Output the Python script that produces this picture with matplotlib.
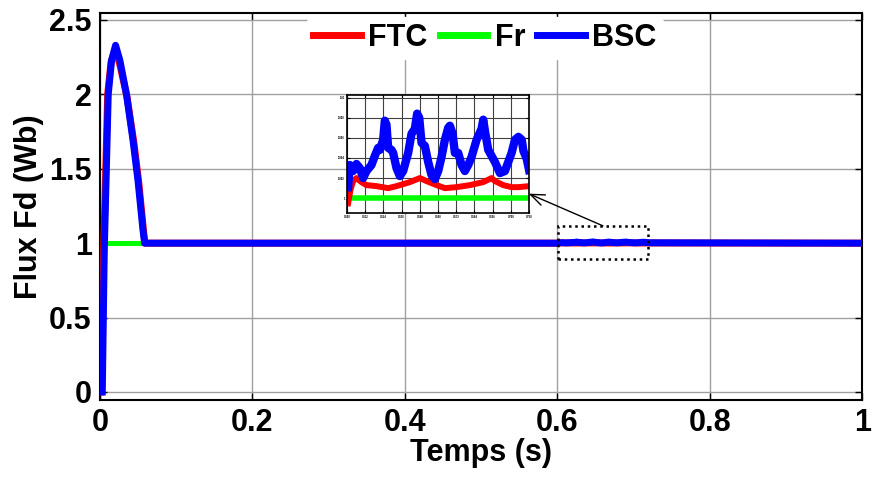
# coding:utf-8
# 磁束 Fd の応答 (FTC / Fr / BSC) と拡大図
import numpy as np
from matplotlib import pyplot as plt
from matplotlib.patches import Rectangle

plt.rcParams['font.family'] = ['Liberation Sans', 'DejaVu Sans']
plt.rcParams['font.weight'] = 'bold'

# 起動時の過渡応答 (秒, Wb)
t_start_ftc = [0.001, 0.0048, 0.0100, 0.0145, 0.0200, 0.026, 0.0355, 0.0443, 0.0508, 0.0573, 0.059]
fd_start_ftc = [0.0, 0.95, 2.00, 2.22, 2.30, 2.20, 1.98, 1.68, 1.41, 1.07, 1.0]
t_start_bsc = [0.003, 0.0056, 0.0108, 0.0152, 0.0204, 0.026, 0.0347, 0.0433, 0.0498, 0.0563, 0.0585]
fd_start_bsc = [0.0, 0.95, 2.00, 2.23, 2.33, 2.23, 2.00, 1.69, 1.42, 1.09, 1.0]

# 拡大区間 0.6 - 0.72 s
t_zoom_bsc = [0.6007, 0.6018, 0.6040, 0.6062, 0.6084, 0.6106, 0.6128, 0.6161, 0.6183, 0.6205,
              0.6216, 0.6238, 0.6249, 0.6260, 0.6271, 0.6293, 0.6304, 0.6326, 0.6348, 0.6370,
              0.6403, 0.6425, 0.6447, 0.6462, 0.6476, 0.6491, 0.6513, 0.6535, 0.6557, 0.6579,
              0.6601, 0.6623, 0.6645, 0.6667, 0.6678, 0.6696, 0.6711, 0.6733, 0.6755, 0.6777,
              0.6799, 0.6821, 0.6854, 0.6887, 0.6898, 0.6909, 0.6931, 0.6953, 0.6975, 0.7008,
              0.7041, 0.7085, 0.7107, 0.7130, 0.7152, 0.7163, 0.7185, 0.7200]
fd_zoom_bsc = [1.0011, 1.0033, 1.0027, 1.0034, 1.0030, 1.0020, 1.0027, 1.0033, 1.0042, 1.0050,
               1.0048, 1.0058, 1.0077, 1.0073, 1.0050, 1.0048, 1.0045, 1.0030, 1.0022, 1.0027,
               1.0045, 1.0064, 1.0069, 1.0084, 1.0080, 1.0055, 1.0052, 1.0036, 1.0023, 1.0019,
               1.0027, 1.0041, 1.0058, 1.0070, 1.0072, 1.0064, 1.0045, 1.0045, 1.0033, 1.0027,
               1.0033, 1.0041, 1.0058, 1.0069, 1.0078, 1.0067, 1.0048, 1.0042, 1.0036, 1.0025,
               1.0027, 1.0045, 1.0058, 1.0061, 1.0058, 1.0047, 1.0039, 1.0028]
t_zoom_ftc = [0.6007, 0.6022, 0.6040, 0.6062, 0.6095, 0.6128, 0.6194, 0.6271, 0.6326, 0.6414,
              0.6480, 0.6524, 0.6590, 0.6645, 0.6722, 0.6810, 0.6898, 0.6953, 0.6975, 0.7030,
              0.7085, 0.7130, 0.7200]
fd_zoom_ftc = [0.9995, 1.0008, 1.0017, 1.0020, 1.0016, 1.0013, 1.0012, 1.0010, 1.0012, 1.0016,
               1.0020, 1.0017, 1.0013, 1.0010, 1.0011, 1.0013, 1.0016, 1.0020, 1.0017, 1.0013,
               1.0011, 1.0011, 1.0012]

# 基準値
t_ref = [0.0, 1.0]
fd_ref = [1.0, 1.0]

x_ticks = [0, 0.2, 0.4, 0.6, 0.8, 1.0]
x_tick_labels = ["0", "0.2", "0.4", "0.6", "0.8", "1"]
y_ticks = [0, 0.5, 1.0, 1.5, 2.0, 2.5]
y_tick_labels = ["0", "0.5", "1", "1.5", "2", "2.5"]


def full_series(t_start, fd_start, t_zoom, fd_zoom):
    # 起動 -> 定常 -> 拡大区間 -> 定常
    t = list(t_start) + [0.6] + list(t_zoom) + [1.0]
    fd = list(fd_start) + [1.0] + list(fd_zoom) + [1.0]
    return t, fd


fig = plt.figure(figsize=(8.72, 4.79), dpi=100)
ax = fig.add_axes([0.1147, 0.1649, 0.8743, 0.8080])

t_ftc, fd_ftc = full_series(t_start_ftc, fd_start_ftc, t_zoom_ftc, fd_zoom_ftc)
t_bsc, fd_bsc = full_series(t_start_bsc, fd_start_bsc, t_zoom_bsc, fd_zoom_bsc)

ax.plot(t_ftc, fd_ftc, color="#ff0000", lw=5, label="FTC", zorder=3)
ax.plot(t_ref, fd_ref, color="#00ff00", lw=3.6, label="Fr", zorder=2)
ax.plot(t_bsc, fd_bsc, color="#0000ff", lw=5, label="BSC", zorder=4)

ax.set_xlim(0, 1)
ax.set_ylim(-0.054, 2.547)
ax.set_xticks(x_ticks)
ax.set_xticklabels(x_tick_labels)
ax.set_yticks(y_ticks)
ax.set_yticklabels(y_tick_labels)
ax.tick_params(direction="in", length=5, width=1, top=True, right=True,
               labelsize=22, pad=6)
ax.grid(True, color="#a0a0a0", lw=1)
for s in ax.spines.values():
    s.set_linewidth(1.5)
ax.set_xlabel("Temps (s)", fontsize=22, fontweight="bold", labelpad=0)
ax.set_ylabel("Flux Fd (Wb)", fontsize=22, fontweight="bold", labelpad=4)

leg = ax.legend(loc="upper center", bbox_to_anchor=(0.505, 0.99), ncol=3,
                fontsize=22, frameon=True, facecolor="white", edgecolor="white",
                framealpha=1, handlelength=1.55, handletextpad=0.25,
                columnspacing=0.4, borderpad=0.2, borderaxespad=0.0)
leg.set_zorder(5)
for line in leg.get_lines():
    line.set_linewidth(5)

# 拡大範囲の枠と矢印
ax.add_patch(Rectangle((0.601, 0.894), 0.118, 0.222, fill=False, ls=(0, (1, 1.5)),
                       lw=1.8, edgecolor="black", zorder=6))
ax.annotate("", xy=(0.559, 1.34), xytext=(0.663, 1.109),
            arrowprops=dict(arrowstyle="->,head_length=1.0,head_width=0.4",
                            color="black", lw=1), zorder=6)

# 拡大図
ins = fig.add_axes([0.398, 0.5553, 0.2087, 0.2463])
ins.plot(t_ref, fd_ref, color="#00ff00", lw=4)
ins.plot(t_zoom_ftc, fd_zoom_ftc, color="#ff0000", lw=4.3)
ins.plot(t_zoom_bsc, fd_zoom_bsc, color="#0000ff", lw=6)
ins.set_xlim(0.6, 0.72)
ins.set_ylim(0.99853, 1.01025)
ins.set_xticks(np.linspace(0.6, 0.72, 11))
ins.set_xticklabels(["%.3f" % v for v in np.linspace(0.6, 0.72, 11)])
ins.set_yticks([1.0, 1.002, 1.004, 1.006, 1.008, 1.01])
ins.set_yticklabels(["1", "1.002", "1.004", "1.006", "1.008", "1.01"])
ins.tick_params(direction="in", length=2, width=0.8, top=True, right=True,
                labelsize=2, pad=1.5)
ins.grid(True, color="#404040", lw=0.8)
for s in ins.spines.values():
    s.set_linewidth(1.2)

plt.savefig("out.png", dpi=100)
